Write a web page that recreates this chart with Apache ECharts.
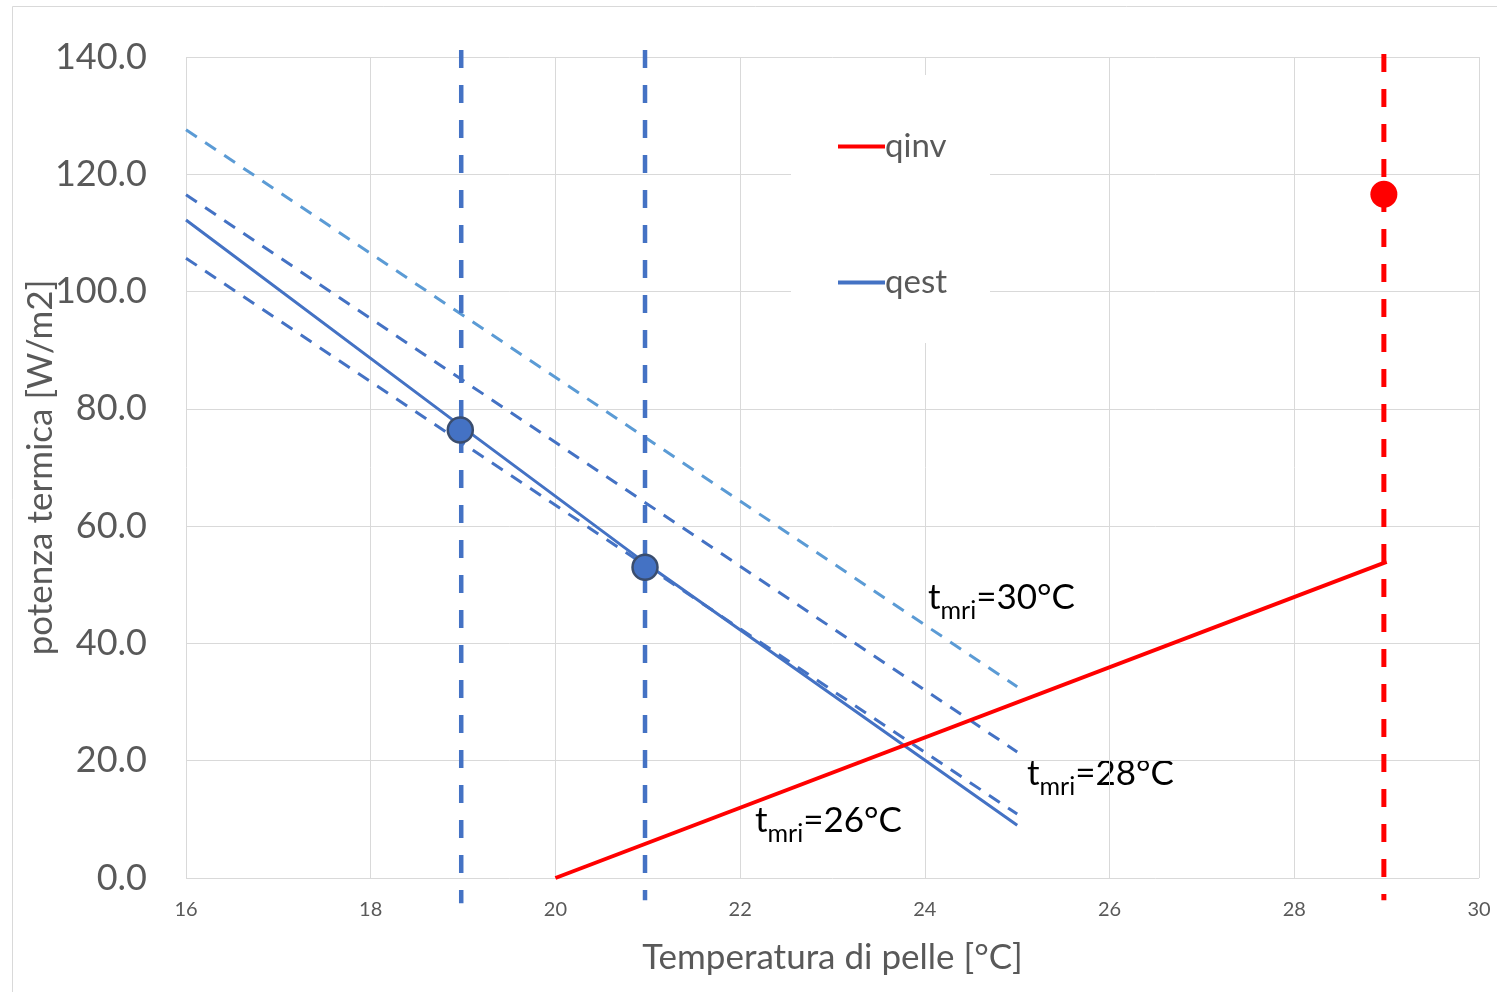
<!DOCTYPE html>
<html>
<head>
<meta charset="utf-8">
<script src="https://cdn.jsdelivr.net/npm/echarts@6/dist/echarts.min.js"></script>
<style>
  html, body { margin: 0; padding: 0; background: #fff; }
  #chart { width: 1497px; height: 992px; }
</style>
</head>
<body>
<div id="chart"></div>
<script>
// valori
const xTicks = [16, 18, 20, 22, 24, 26, 28, 30];
const qinv = [[20, 0], [29, 53.9]];
const qest = [[16, 112.2], [19, 76.8], [21, 53.4], [25, 9.0]];
const tmri26 = [[16, 105.7], [25, 10.9]];
const tmri28 = [[16, 116.5], [25, 21.5]];
const tmri30 = [[16, 127.6], [25, 32.6]];
const puntiEst = [[18.97, 76.4], [20.97, 53.0]];
const puntoInv = [[28.97, 116.6]];
// linee verticali (dall'alto verso il basso)
const vert19 = [[18.98, 141.2], [18.98, -4.3]];
const vert21 = [[20.97, 141.2], [20.97, -3.8]];
const vert29 = [[28.97, 140.5], [28.97, -3.8]];

const chart = echarts.init(document.getElementById('chart'));

const FONT = 'Lato';
const GREY = '#595959';

// etichetta t_mri con pedice
function tLabel(txt, x, y) {
  return {
    type: 'text',
    left: x,
    top: y,
    style: {
      text: '{a|t}{s|mri}{a|' + txt + '}',
      rich: {
        a: { fontFamily: FONT, fontSize: 35, color: '#000', verticalAlign: 'bottom', lineHeight: 44 },
        s: { fontFamily: FONT, fontSize: 25, color: '#000', verticalAlign: 'bottom', lineHeight: 44, padding: [0, 0, -8, 0] }
      }
    }
  };
}

const option = {
  animation: false,
  backgroundColor: '#fff',
  grid: { left: 186, right: 18, top: 57, bottom: 114, outerBoundsMode: 'none' },
  xAxis: {
    type: 'value',
    min: 16, max: 30, interval: 2,
    name: 'Temperatura di pelle [°C]',
    nameLocation: 'middle',
    nameGap: 62,
    nameMoveOverlap: false,
    nameTextStyle: { fontFamily: FONT, fontSize: 35, color: GREY },
    axisLine: { show: false },
    axisTick: { show: false },
    axisLabel: { fontFamily: FONT, fontSize: 20, color: GREY, margin: 22 },
    splitLine: { show: true, lineStyle: { color: '#d9d9d9', width: 1 } }
  },
  yAxis: {
    type: 'value',
    min: 0, max: 140, interval: 20,
    name: 'potenza termica [W/m2]',
    nameLocation: 'middle',
    nameGap: 128,
    nameMoveOverlap: false,
    nameTextStyle: { fontFamily: FONT, fontSize: 35, color: GREY },
    axisLine: { show: false },
    axisTick: { show: false },
    axisLabel: {
      fontFamily: FONT, fontSize: 36, color: GREY, margin: 39,
      formatter: v => v.toFixed(1)
    },
    splitLine: { show: true, lineStyle: { color: '#d9d9d9', width: 1 } }
  },
  legend: {
    orient: 'vertical',
    left: 791,
    top: 75,
    data: [
      { name: 'qinv', icon: 'rect', itemStyle: { color: '#ff0000' } },
      { name: 'qest', icon: 'rect', itemStyle: { color: '#4472c4' } }
    ],
    itemWidth: 47,
    itemHeight: 4,
    itemGap: 103,
    backgroundColor: '#fff',
    padding: [55, 43, 44, 47],
    textStyle: { fontFamily: FONT, fontSize: 33, color: GREY, padding: [0, 0, 0, -5] }
  },
  graphic: [
    { type: 'rect', shape: { x: 12.5, y: 6.5, width: 1500, height: 1000 },
      style: { fill: 'none', stroke: '#d9d9d9', lineWidth: 1 }, silent: true },
    tLabel('=30°C', 928, 580),
    tLabel('=28°C', 1027, 756),
    tLabel('=26°C', 755, 803)
  ],
  series: [
    {
      name: 'tmri30', type: 'line', data: tmri30, symbol: 'none',
      lineStyle: { color: '#5b9bd5', width: 3, type: [13, 10] }
    },
    {
      name: 'tmri28', type: 'line', data: tmri28, symbol: 'none',
      lineStyle: { color: '#4472c4', width: 3, type: [13, 10] }
    },
    {
      name: 'tmri26', type: 'line', data: tmri26, symbol: 'none',
      lineStyle: { color: '#4472c4', width: 3, type: [13, 10] }
    },
    {
      name: 'qest', type: 'line', data: qest, symbol: 'none',
      lineStyle: { color: '#4472c4', width: 3 }
    },
    {
      name: 'qinv', type: 'line', data: qinv, symbol: 'none',
      lineStyle: { color: '#ff0000', width: 4 }
    },
    {
      name: 'v19', type: 'line', data: vert19, symbol: 'none', clip: false,
      lineStyle: { color: '#4472c4', width: 4.5, type: [18, 17] }
    },
    {
      name: 'v21', type: 'line', data: vert21, symbol: 'none', clip: false,
      lineStyle: { color: '#4472c4', width: 4.5, type: [18, 17] }
    },
    {
      name: 'v29', type: 'line', data: vert29, symbol: 'none', clip: false,
      lineStyle: { color: '#ff0000', width: 5, type: [18, 17] }
    },
    {
      name: 'puntiEst', type: 'scatter', data: puntiEst, symbolSize: 25, z: 5,
      itemStyle: { color: '#4472c4', borderColor: '#3a4d6e', borderWidth: 2.5, opacity: 1 }
    },
    {
      name: 'puntoInv', type: 'scatter', data: puntoInv, symbolSize: 27, z: 5,
      itemStyle: { color: '#ff0000', opacity: 1 }
    }
  ]
};

chart.setOption(option);
</script>
</body>
</html>
